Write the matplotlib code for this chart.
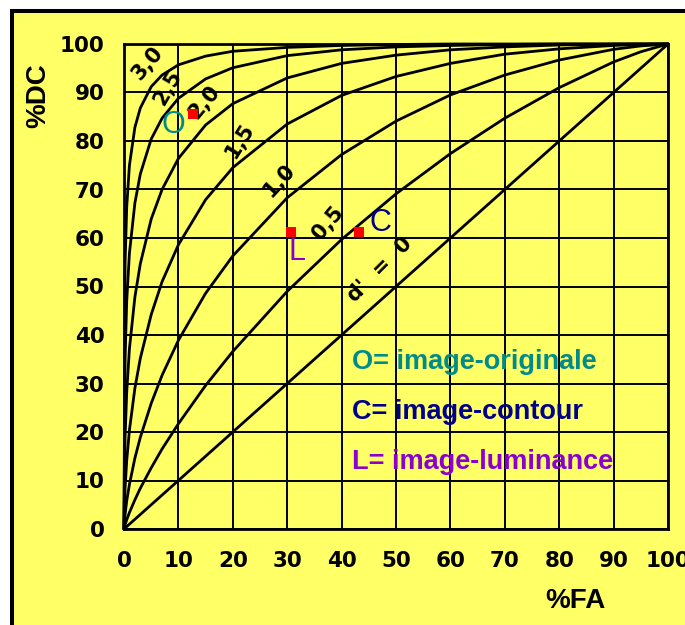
import matplotlib
matplotlib.use("Agg")
import matplotlib.pyplot as plt
from matplotlib.patches import Rectangle

# False-alarm rates (%) shared by every ROC curve
fa = [0, 0.2, 0.5, 1, 2, 3, 5, 7, 10, 15, 20, 30, 40, 50, 60, 70, 80, 90, 95, 100]

# Hit rates (%) for each sensitivity d'
dc_00 = [0, 0.2, 0.5, 1, 2, 3, 5, 7, 10, 15, 20, 30, 40, 50, 60, 70, 80, 90, 95, 100]
dc_05 = [0, 0.9, 1.9, 3.4, 6.0, 8.4, 12.6, 16.5, 21.7, 29.6, 36.6, 49.0, 59.7, 69.1, 77.4, 84.7, 91.0, 96.3, 98.4, 100]
dc_10 = [0, 3.0, 5.8, 9.2, 14.6, 18.9, 25.9, 31.7, 38.9, 48.6, 56.3, 68.3, 77.2, 84.1, 89.5, 93.6, 96.7, 98.9, 99.6, 100]
dc_15 = [0, 8.4, 14.1, 20.4, 29.0, 35.2, 44.2, 51.0, 58.6, 67.9, 74.5, 83.5, 89.4, 93.3, 96.0, 97.9, 99.0, 99.7, 99.9, 100]
dc_20 = [0, 19.0, 28.2, 37.2, 47.8, 54.7, 63.9, 70.0, 76.4, 83.3, 87.7, 93.0, 96.0, 97.7, 98.8, 99.4, 99.8, 99.95, 99.98, 100]
dc_25 = [0, 35.3, 47.0, 56.9, 67.2, 73.2, 80.4, 84.7, 88.8, 92.8, 95.1, 97.6, 98.8, 99.4, 99.7, 99.9, 100, 100, 100, 100]
dc_30 = [0, 54.9, 66.4, 75.0, 82.8, 86.8, 91.2, 93.6, 95.7, 97.5, 98.5, 99.3, 99.7, 99.9, 100, 100, 100, 100, 100, 100]

curves = [dc_00, dc_05, dc_10, dc_15, dc_20, dc_25, dc_30]

# Curve labels: text, (FA, DC) anchor, rotation
curve_labels = ["3,0", "2,5", "2,0", "1,5", "1,0", "0,5", "d'  =  0"]
label_pos = [(4.4, 96.0), (8.1, 91.0), (14.8, 88.0), (21.3, 80.0),
             (28.5, 72.0), (37.5, 63.0), (47.0, 53.5)]
label_rot = [50, 60, 50, 58, 48, 50, 45]

# Measured conditions
cond_names = ["O", "C", "L"]
cond_fa = [12.7, 43.2, 30.7]
cond_dc = [85.5, 61.2, 61.2]
cond_letter_pos = [(9.0, 83.3), (47.1, 63.1), (31.8, 57.1)]
cond_text = ["O= image-originale", "C= image-contour", "L= image-luminance"]
cond_colors = ["#008b8b", "#00008b", "#8b00d0"]

ticks = list(range(0, 101, 10))
yellow = "#ffff66"

fig = plt.figure(figsize=(6.85, 6.25), dpi=100)
fig.patch.set_facecolor("white")

# Yellow panel with heavy black border on the left and top
panel = Rectangle((12 / 685, -0.1), 1.2, 1.1 - 11 / 625,
                  transform=fig.transFigure, facecolor=yellow,
                  edgecolor="black", linewidth=2.9, zorder=-5)
fig.add_artist(panel)

ax = fig.add_axes([124 / 685, 1 - 529 / 625, 544 / 685, 485 / 625])
ax.set_zorder(2)
ax.set_facecolor(yellow)
ax.set_xlim(0, 100)
ax.set_ylim(0, 100)
ax.set_xticks(ticks)
ax.set_yticks(ticks)
ax.grid(True, color="black", linewidth=1.4, zorder=1)
ax.set_axisbelow(True)
for s in ax.spines.values():
    s.set_linewidth(2.0)
    s.set_color("black")
ax.tick_params(length=0)
tick_font = dict(family="DejaVu Sans", weight="bold", size=15.5)
ax.set_xticklabels([str(t) for t in ticks], **tick_font)
ax.set_yticklabels([str(t) for t in ticks], **tick_font)
ax.tick_params(axis="x", pad=16)
ax.tick_params(axis="y", pad=14)

for dc in curves:
    ax.plot(fa, dc, color="black", linewidth=2.0, zorder=3, clip_on=False,
            solid_capstyle="round")

for txt, (x, y), r in zip(curve_labels, label_pos, label_rot):
    ax.text(x, y, txt, rotation=r, ha="center", va="center",
            family="DejaVu Sans", weight="bold", size=15, zorder=4)

ax.plot(cond_fa, cond_dc, linestyle="none", marker="s", markersize=7.5,
        color="red", markeredgewidth=0, zorder=6)

for name, (x, y), c in zip(cond_names, cond_letter_pos, cond_colors):
    ax.text(x, y, name, ha="center", va="center", color=c,
            family="Liberation Sans", size=22, zorder=5)

for i, (txt, c) in enumerate(zip(cond_text, cond_colors)):
    ax.text(41.9, 34.4 - 10.3 * i, txt, ha="left", va="center", color=c,
            family="Liberation Sans", weight="bold", size=19.5, zorder=5)

fig.text(38 / 685, 1 - 96 / 625, "%DC", rotation=90, ha="center", va="center",
         family="Liberation Sans", weight="bold", size=20)
fig.text(575 / 685, 1 - 601 / 625, "%FA", ha="center", va="center",
         family="Liberation Sans", weight="bold", size=20)

fig.savefig("out.png", dpi=100, facecolor=fig.get_facecolor())
